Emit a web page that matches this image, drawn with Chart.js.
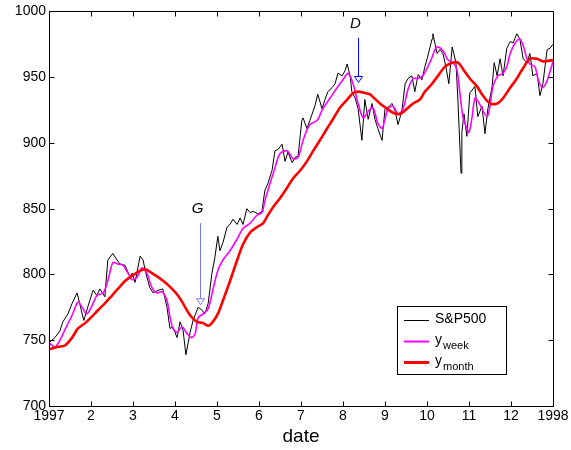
<!DOCTYPE html>
<html>
<head>
<meta charset="utf-8">
<script src="https://cdn.jsdelivr.net/npm/chart.js@4/dist/chart.umd.min.js"></script>
<style>
  html, body { margin: 0; padding: 0; background: #fff; }
  #wrap { width: 571px; height: 450px; }
</style>
</head>
<body>
<div id="wrap"><canvas id="chart" width="571" height="450"></canvas></div>
<script>
// S&P500 closes in 1997, x = month (1 = Jan 1997, 13 = Jan 1998)
const spxMonth = [1.00,1.14,1.26,1.33,1.45,1.55,1.67,1.79,1.83,1.93,2.05,2.14,2.21,2.33,2.40,2.52,2.62,2.69,2.81,2.93,2.98,3.05,3.17,3.24,3.29,3.40,3.48,3.60,3.71,3.81,3.88,3.95,4.05,4.12,4.19,4.26,4.36,4.43,4.55,4.64,4.71,4.79,4.88,4.95,5.02,5.07,5.14,5.24,5.31,5.38,5.48,5.55,5.62,5.71,5.79,5.86,5.98,6.07,6.14,6.21,6.31,6.38,6.45,6.55,6.62,6.69,6.79,6.86,6.93,7.02,7.05,7.14,7.21,7.33,7.40,7.50,7.57,7.64,7.74,7.81,7.88,7.98,8.05,8.10,8.17,8.21,8.29,8.36,8.45,8.52,8.60,8.69,8.76,8.83,8.93,9.00,9.07,9.17,9.24,9.31,9.40,9.48,9.55,9.64,9.71,9.79,9.88,9.95,10.02,10.12,10.14,10.24,10.31,10.38,10.45,10.52,10.60,10.69,10.74,10.79,10.81,10.83,10.88,10.95,11.02,11.14,11.21,11.31,11.38,11.45,11.55,11.60,11.67,11.74,11.81,11.90,11.98,12.05,12.14,12.21,12.29,12.38,12.45,12.52,12.62,12.69,12.76,12.86,12.93,13.00];
const spxClose = [748,752,757,764,770,778,786,770,765,776,788,784,789,783,811,816,811,808,807,798,801,794,814,811,803,790,786,788,789,775,759,760,752,764,758,739,756,765,775,773,770,778,801,813,829,818,824,836,838,842,838,843,838,850,847,848,846,848,864,869,879,894,895,899,886,893,885,889,890,917,919,911,917,928,937,926,933,939,942,945,953,951,955,960,951,939,934,926,902,933,918,930,918,911,902,926,927,930,924,914,924,945,949,951,939,952,948,958,966,979,983,968,971,968,958,945,973,961,930,892,877,908,922,905,938,943,920,928,907,926,943,961,951,964,951,972,977,976,983,979,964,961,968,951,953,936,945,971,972,975];

// weekly average
const weekMonth = [1.00,1.14,1.26,1.38,1.55,1.69,1.79,1.90,2.02,2.14,2.29,2.40,2.52,2.64,2.76,2.88,2.98,3.10,3.21,3.33,3.45,3.57,3.69,3.81,3.88,3.95,4.05,4.17,4.29,4.40,4.48,4.55,4.67,4.79,4.90,5.02,5.14,5.31,5.48,5.62,5.79,5.95,6.07,6.14,6.26,6.38,6.50,6.67,6.81,6.93,7.05,7.21,7.38,7.52,7.69,7.86,8.00,8.12,8.24,8.36,8.48,8.60,8.71,8.83,8.93,9.00,9.07,9.19,9.31,9.43,9.55,9.67,9.79,9.90,10.02,10.12,10.19,10.26,10.38,10.50,10.62,10.71,10.79,10.86,10.95,11.00,11.07,11.14,11.21,11.31,11.43,11.50,11.57,11.69,11.81,11.90,11.98,12.10,12.21,12.29,12.38,12.45,12.57,12.64,12.74,12.81,12.88,13.00];
const weekValue = [748,745,750,758,769,779,775,770,776,784,786,795,809,808,807,801,796,798,805,801,790,786,787,780,768,759,756,760,755,752,755,767,770,774,788,803,811,818,827,835,839,845,847,856,869,881,892,894,888,889,902,914,917,926,934,942,948,953,945,930,919,924,927,915,911,918,926,928,922,926,941,949,949,951,958,965,971,973,970,963,961,956,936,919,911,908,919,934,932,926,920,928,943,951,953,958,968,976,979,974,964,960,958,949,942,944,949,962];

// monthly average
const monthMonth = [1.00,1.21,1.38,1.55,1.69,1.86,2.02,2.17,2.33,2.50,2.64,2.81,2.98,3.12,3.29,3.45,3.60,3.76,3.93,4.07,4.19,4.36,4.52,4.67,4.79,4.90,5.02,5.14,5.31,5.48,5.62,5.79,5.95,6.10,6.19,6.33,6.50,6.67,6.81,6.98,7.14,7.29,7.45,7.62,7.76,7.93,8.10,8.24,8.36,8.52,8.64,8.71,8.88,9.05,9.19,9.36,9.52,9.67,9.83,9.95,10.12,10.26,10.43,10.60,10.74,10.86,11.02,11.19,11.33,11.50,11.67,11.81,11.98,12.14,12.29,12.45,12.62,12.76,13.00];
const monthValue = [743,745,746,752,759,763,768,773,778,784,789,795,799,802,804,801,798,794,789,784,778,769,764,763,761,764,770,780,795,811,823,832,836,839,844,851,858,866,873,879,886,894,902,911,918,927,933,938,939,938,937,935,930,926,923,922,926,930,933,939,945,951,958,961,961,956,949,943,936,930,930,934,942,949,957,964,964,962,963];

const xTickLabels = ['1997','2','3','4','5','6','7','8','9','10','11','12','1998'];

const FONT = '"Liberation Sans", Arial, Helvetica, sans-serif';

// arrows: label, month, top value, tip value
const markers = [
  { label: 'G', month: 4.60, from: 839, to: 777, color: '#7878ff' },
  { label: 'D', month: 8.36, from: 980, to: 946, color: '#0000ff' }
];

function pts(xs, ys) {
  return xs.map((x, i) => ({ x: x, y: ys[i] }));
}

// box, inward ticks, arrows and legend (matlab look)
const decorPlugin = {
  id: 'decor',
  afterDatasetsDraw(chart) {
    const ctx = chart.ctx;
    const a = chart.chartArea;
    const xs = chart.scales.x, ys = chart.scales.y;
    ctx.save();

    // arrows
    markers.forEach(m => {
      const px = Math.round(xs.getPixelForValue(m.month)) + 0.5;
      const y0 = ys.getPixelForValue(m.from);
      const y1 = ys.getPixelForValue(m.to);
      ctx.strokeStyle = m.color;
      ctx.lineWidth = 1;
      ctx.beginPath();
      ctx.moveTo(px, y0);
      ctx.lineTo(px, y1 - 6);
      ctx.stroke();
      ctx.fillStyle = '#fff';
      ctx.beginPath();
      ctx.moveTo(px - 4, y1 - 6);
      ctx.lineTo(px + 4, y1 - 6);
      ctx.lineTo(px, y1);
      ctx.closePath();
      ctx.fill();
      ctx.stroke();
      ctx.fillStyle = '#000';
      ctx.font = 'italic 15px ' + FONT;
      ctx.textAlign = 'center';
      ctx.textBaseline = 'middle';
      ctx.fillText(m.label, px - 3, y0 - 14);
    });

    // frame
    ctx.strokeStyle = '#000';
    ctx.lineWidth = 1;
    const L = Math.round(a.left) + 0.5, R = Math.round(a.right) + 0.5;
    const T = Math.round(a.top) + 0.5, B = Math.round(a.bottom) + 0.5;
    ctx.strokeRect(L, T, R - L, B - T);
    ctx.beginPath();
    ys.ticks.forEach(t => {
      const y = Math.round(ys.getPixelForValue(t.value)) + 0.5;
      ctx.moveTo(L, y); ctx.lineTo(L + 5, y);
      ctx.moveTo(R, y); ctx.lineTo(R - 5, y);
    });
    xs.ticks.forEach(t => {
      const x = Math.round(xs.getPixelForValue(t.value)) + 0.5;
      ctx.moveTo(x, B); ctx.lineTo(x, B - 5);
      ctx.moveTo(x, T); ctx.lineTo(x, T + 5);
    });
    ctx.stroke();

    // legend
    const lx = 397.5, ly = 306.5, lw = 109, lh = 68;
    ctx.fillStyle = '#fff';
    ctx.fillRect(lx, ly, lw, lh);
    ctx.strokeStyle = '#000';
    ctx.strokeRect(lx, ly, lw, lh);
    const rows = [
      { color: '#000000', width: 1, main: 'S&P500', sub: '', y: 320 },
      { color: '#ff00ff', width: 2, main: 'y', sub: 'week', y: 341 },
      { color: '#ff0000', width: 3, main: 'y', sub: 'month', y: 362 }
    ];
    rows.forEach(r => {
      ctx.strokeStyle = r.color;
      ctx.lineWidth = r.width;
      ctx.beginPath();
      ctx.moveTo(404, r.y + 0.5);
      ctx.lineTo(429, r.y + 0.5);
      ctx.stroke();
      ctx.fillStyle = '#000';
      ctx.textAlign = 'left';
      ctx.textBaseline = 'alphabetic';
      ctx.font = '14px ' + FONT;
      ctx.fillText(r.main, 435, r.y + 3);
      if (r.sub) {
        const w = ctx.measureText(r.main).width;
        ctx.font = '11px ' + FONT;
        ctx.fillText(r.sub, 435 + w + 1, r.y + 8);
      }
    });
    ctx.restore();
  }
};

const ctx = document.getElementById('chart').getContext('2d');
new Chart(ctx, {
  type: 'line',
  data: {
    datasets: [
      {
        label: 'y_month',
        data: pts(monthMonth, monthValue),
        borderColor: '#ff0000',
        borderWidth: 2.6,
        pointRadius: 0,
        tension: 0.3,
        order: 1
      },
      {
        label: 'y_week',
        data: pts(weekMonth, weekValue),
        borderColor: '#ff00ff',
        borderWidth: 1.6,
        pointRadius: 0,
        tension: 0.3,
        order: 2
      },
      {
        label: 'S&P500',
        data: pts(spxMonth, spxClose),
        borderColor: '#000000',
        borderWidth: 1,
        pointRadius: 0,
        tension: 0,
        order: 3
      }
    ]
  },
  options: {
    responsive: false,
    animation: false,
    events: [],
    layout: { padding: { top: 10, right: 18, left: 0, bottom: 0 } },
    plugins: {
      legend: { display: false },
      tooltip: { enabled: false }
    },
    scales: {
      x: {
        type: 'linear',
        min: 1,
        max: 13,
        grid: { display: false, drawTicks: false },
        border: { display: false },
        ticks: {
          stepSize: 1,
          autoSkip: false,
          maxRotation: 0,
          padding: 2,
          color: '#000',
          font: { family: FONT, size: 14 },
          callback: (v) => xTickLabels[v - 1]
        },
        title: {
          display: true,
          text: 'date',
          color: '#000',
          font: { family: FONT, size: 19 },
          padding: { top: 0, bottom: 2 }
        },
        afterFit: (s) => { s.height = 44; }
      },
      y: {
        min: 700,
        max: 1000,
        grid: { display: false, drawTicks: false },
        border: { display: false },
        ticks: {
          stepSize: 50,
          padding: 3,
          color: '#000',
          font: { family: FONT, size: 14 },
          callback: (v) => String(v)
        },
        afterFit: (s) => { s.width = 49; }
      }
    }
  },
  plugins: [decorPlugin]
});
</script>
</body>
</html>
